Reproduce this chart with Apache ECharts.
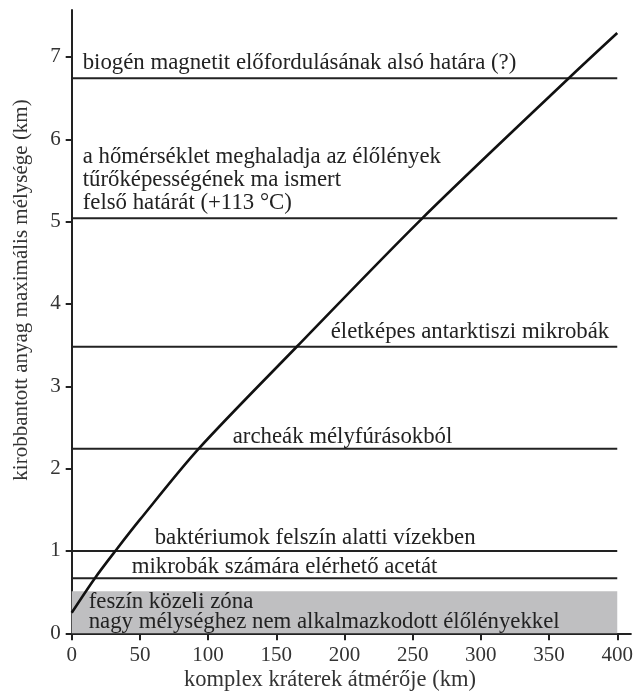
<!DOCTYPE html>
<html>
<head>
<meta charset="utf-8">
<style>
  html, body { margin: 0; padding: 0; background: #ffffff; }
  #chart { width: 636px; height: 694px; }
</style>
<script src="https://cdn.jsdelivr.net/npm/echarts@6/dist/echarts.min.js"></script>
</head>
<body>
<div id="chart"></div>
<script>
// crater curve
var craterDiameter = [0, 17, 32, 50, 93, 165, 257, 365, 400]
var maxDepth = [0.25, 0.67, 1.0, 1.38, 2.24, 3.48, 5.04, 6.75, 7.29]

// horizontal limits
var levelValues = [6.74, 5.04, 3.48, 2.24, 1.0, 0.67]
var levelNames = [
  'biogén magnetit előfordulásának alsó határa (?)',
  'a hőmérséklet meghaladja az élőlények\ntűrőképességének ma ismert\nfelső határát (+113 °C)',
  'életképes antarktiszi mikrobák',
  'archeák mélyfúrásokból',
  'baktériumok felszín alatti vízekben',
  'mikrobák számára elérhető acetát'
]

var bandTop = 0.51
var bandName = 'feszín közeli zóna\nnagy mélységhez nem alkalmazkodott élőlényekkel'

var xTicks = [0, 50, 100, 150, 200, 250, 300, 350, 400]
var yTicks = [0, 1, 2, 3, 4, 5, 6, 7]
var xEnd = 400

var font = '"Liberation Serif", "DejaVu Serif", serif'
var ink = '#222222'
var labelSize = 22.8

// label placement per level: [anchor point index, dx, dy, align]
var labelPlace = [
  [0, 11, -15, 'left'],
  [0, 11, -38, 'left'],
  [1, -8, -15, 'right'],
  [0, 161, -12, 'left'],
  [0, 83, -13, 'left'],
  [0, 60, -11, 'left']
]

var chart = echarts.init(document.getElementById('chart'))

var series = levelValues.map(function (v, i) {
  var p = labelPlace[i]
  var pts = [[0, v], [xEnd, v]]
  return {
    type: 'line',
    name: levelNames[i],
    data: pts.map(function (pt, k) {
      return {
        value: pt,
        label: {
          show: k === p[0],
          formatter: levelNames[i],
          position: [p[1], p[2]],
          align: p[3],
          verticalAlign: 'middle',
          color: ink,
          fontFamily: font,
          fontSize: labelSize,
          lineHeight: 23
        }
      }
    }),
    symbol: 'circle',
    symbolSize: 0.01,
    showSymbol: true,
    itemStyle: { color: ink },
    lineStyle: { color: ink, width: 2 },
    silent: true,
    z: 3
  }
})

series.push({
  type: 'line',
  name: 'band',
  data: [],
  markArea: {
    silent: true,
    itemStyle: { color: '#bfbfc1' },
    label: {
      show: true,
      position: 'insideLeft',
      distance: 17,
      color: ink,
      fontFamily: font,
      fontSize: labelSize,
      lineHeight: 20,
      formatter: bandName
    },
    data: [[{ xAxis: 0, yAxis: 0 }, { xAxis: xEnd, yAxis: bandTop }]]
  },
  z: 1
})

series.push({
  type: 'line',
  name: 'crater',
  data: craterDiameter.map(function (x, i) { return [x, maxDepth[i]] }),
  smooth: 0.3,
  showSymbol: false,
  lineStyle: { color: '#111111', width: 2.6 },
  silent: true,
  z: 4
})

chart.setOption({
  backgroundColor: '#ffffff',
  animation: false,
  grid: {
    left: 71.7,
    right: 0.5,
    top: 10,
    bottom: 60.7
  },
  xAxis: {
    type: 'value',
    min: 0,
    max: 410,
    axisLine: { show: true, lineStyle: { color: ink, width: 2 } },
    axisTick: {
      show: true,
      length: 7,
      customValues: xTicks,
      lineStyle: { color: ink, width: 2 }
    },
    axisLabel: {
      customValues: xTicks,
      color: '#333333',
      fontFamily: font,
      fontSize: 21,
      margin: 12
    },
    splitLine: { show: false }
  },
  yAxis: {
    type: 'value',
    min: 0,
    max: 7.57,
    axisLine: { show: true, lineStyle: { color: ink, width: 2 } },
    axisTick: {
      show: true,
      length: 6,
      customValues: yTicks,
      lineStyle: { color: ink, width: 2 }
    },
    axisLabel: {
      customValues: yTicks,
      color: '#333333',
      fontFamily: font,
      fontSize: 21,
      margin: 11
    },
    splitLine: { show: false }
  },
  graphic: [
    {
      type: 'text',
      x: 21,
      y: 290,
      rotation: Math.PI / 2,
      style: {
        text: 'kirobbantott anyag maximális mélysége (km)',
        fill: '#333333',
        font: '21px ' + font,
        align: 'center',
        verticalAlign: 'middle'
      }
    },
    {
      type: 'text',
      x: 330,
      y: 680,
      style: {
        text: 'komplex kráterek átmérője (km)',
        fill: '#333333',
        font: '22.5px ' + font,
        align: 'center',
        verticalAlign: 'middle'
      }
    }
  ],
  series: series
})
</script>
</body>
</html>
